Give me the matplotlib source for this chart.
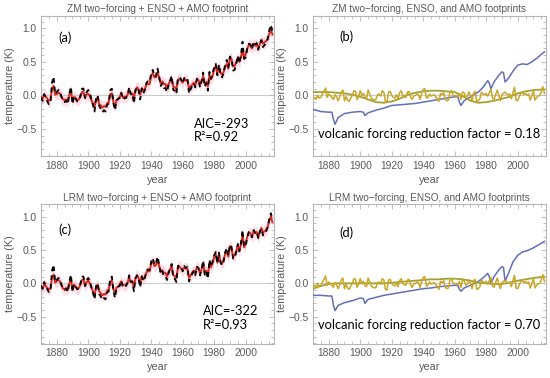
import numpy as np
import matplotlib
matplotlib.use("Agg")
import matplotlib.pyplot as plt
from matplotlib.ticker import MultipleLocator, FixedLocator

# ---------------- data ----------------
years = list(range(1870, 2018))

observed = [
    -0.03, -0.08, 0.02, -0.03, -0.09, -0.13, -0.12, 0.19, 0.28, 0.02,
    0.05, 0.08, 0.06, -0.02, -0.08, -0.10, -0.08, -0.13, 0.03, 0.13,
    -0.13, -0.01, -0.05, -0.09, -0.08, -0.01, 0.10, 0.10, -0.04, 0.05,
    0.08, 0.04, -0.06, -0.14, -0.24, -0.04, 0.00, -0.16, -0.20, -0.25,
    -0.22, -0.24, -0.14, -0.12, 0.08, 0.10, -0.12, -0.22, -0.07, -0.05,
    -0.04, 0.04, -0.06, -0.04, -0.04, 0.01, 0.12, 0.02, 0.03, -0.12,
    0.07, 0.12, 0.07, -0.06, 0.10, 0.03, 0.08, 0.19, 0.21, 0.20,
    0.33, 0.38, 0.28, 0.29, 0.40, 0.29, 0.14, 0.18, 0.11, 0.11,
    0.05, 0.15, 0.22, 0.29, 0.08, 0.07, 0.02, 0.26, 0.27, 0.24,
    0.18, 0.26, 0.23, 0.25, 0.03, 0.09, 0.14, 0.18, 0.12, 0.25,
    0.23, 0.12, 0.21, 0.34, 0.13, 0.18, 0.07, 0.35, 0.25, 0.33,
    0.42, 0.47, 0.30, 0.46, 0.31, 0.27, 0.33, 0.47, 0.53, 0.42,
    0.58, 0.55, 0.37, 0.38, 0.47, 0.59, 0.48, 0.60, 0.80, 0.55,
    0.56, 0.69, 0.77, 0.76, 0.69, 0.80, 0.76, 0.78, 0.68, 0.78,
    0.82, 0.72, 0.75, 0.78, 0.84, 0.97, 1.05, 0.95,
]

model_zm = [
    -0.02, -0.05, 0.01, -0.02, -0.05, -0.08, -0.07, 0.11, 0.14, 0.01,
    0.02, 0.04, 0.03, -0.02, -0.06, -0.07, -0.06, -0.09, 0.01, 0.07,
    -0.09, -0.02, -0.04, -0.07, -0.06, -0.02, 0.05, 0.05, -0.04, 0.02,
    0.02, -0.01, -0.07, -0.12, -0.17, -0.06, -0.03, -0.13, -0.15, -0.18,
    -0.16, -0.17, -0.12, -0.10, 0.02, 0.03, -0.10, -0.16, -0.07, -0.06,
    -0.02, 0.03, -0.03, -0.02, -0.02, 0.01, 0.08, 0.02, 0.03, -0.06,
    0.09, 0.12, 0.09, 0.01, 0.11, 0.07, 0.10, 0.16, 0.17, 0.17,
    0.30, 0.33, 0.27, 0.27, 0.34, 0.27, 0.18, 0.21, 0.17, 0.17,
    0.11, 0.17, 0.21, 0.25, 0.13, 0.12, 0.09, 0.24, 0.24, 0.22,
    0.19, 0.24, 0.22, 0.23, 0.10, 0.13, 0.16, 0.19, 0.15, 0.23,
    0.23, 0.16, 0.21, 0.29, 0.17, 0.20, 0.13, 0.30, 0.24, 0.29,
    0.40, 0.43, 0.33, 0.43, 0.34, 0.31, 0.35, 0.43, 0.47, 0.40,
    0.56, 0.54, 0.43, 0.44, 0.49, 0.56, 0.50, 0.57, 0.69, 0.54,
    0.62, 0.70, 0.75, 0.74, 0.70, 0.77, 0.74, 0.76, 0.70, 0.76,
    0.83, 0.77, 0.79, 0.81, 0.84, 0.92, 0.97, 0.91,
]

model_lrm = [
    -0.06, -0.08, -0.02, -0.04, -0.07, -0.09, -0.08, 0.09, 0.13, 0.01,
    0.03, 0.05, 0.03, -0.03, -0.08, -0.09, -0.07, -0.10, 0.00, 0.07,
    -0.10, -0.02, -0.05, -0.08, -0.07, -0.02, 0.05, 0.06, -0.04, 0.02,
    0.04, 0.00, -0.06, -0.12, -0.18, -0.06, -0.02, -0.12, -0.15, -0.18,
    -0.16, -0.17, -0.11, -0.09, 0.03, 0.04, -0.09, -0.15, -0.06, -0.05,
    -0.02, 0.03, -0.03, -0.02, -0.02, 0.01, 0.09, 0.02, 0.03, -0.06,
    0.08, 0.12, 0.08, 0.00, 0.11, 0.06, 0.10, 0.17, 0.18, 0.18,
    0.30, 0.33, 0.26, 0.27, 0.34, 0.27, 0.17, 0.20, 0.16, 0.16,
    0.10, 0.17, 0.21, 0.26, 0.12, 0.11, 0.08, 0.24, 0.25, 0.22,
    0.19, 0.24, 0.22, 0.22, 0.08, 0.12, 0.16, 0.19, 0.15, 0.24,
    0.23, 0.15, 0.21, 0.30, 0.16, 0.19, 0.11, 0.31, 0.24, 0.30,
    0.40, 0.44, 0.31, 0.43, 0.33, 0.30, 0.35, 0.44, 0.48, 0.40,
    0.56, 0.52, 0.40, 0.42, 0.48, 0.57, 0.49, 0.58, 0.72, 0.54,
    0.60, 0.70, 0.76, 0.75, 0.70, 0.78, 0.75, 0.77, 0.69, 0.77,
    0.83, 0.76, 0.78, 0.80, 0.85, 0.94, 1.00, 0.92,
]

enso = [
    -0.05, -0.03, -0.06, 0.00, -0.04, -0.03, 0.02, 0.06, 0.11, -0.03,
    0.02, 0.00, -0.03, -0.06, 0.01, -0.02, -0.08, -0.02, 0.05, 0.08,
    -0.08, -0.02, -0.07, -0.09, -0.04, 0.00, 0.07, 0.06, -0.06, -0.01,
    0.07, 0.00, 0.03, -0.03, -0.05, 0.08, 0.02, -0.04, -0.06, -0.07,
    -0.06, 0.01, 0.02, -0.01, 0.07, 0.05, -0.09, -0.10, 0.05, 0.06,
    0.00, -0.03, -0.04, 0.01, -0.05, 0.04, 0.07, 0.00, -0.02, -0.03,
    0.05, 0.06, -0.02, -0.06, -0.01, 0.00, 0.02, 0.01, -0.06, 0.03,
    0.09, 0.10, -0.04, -0.03, 0.02, -0.01, 0.00, 0.01, -0.02, -0.05,
    -0.09, 0.03, 0.01, 0.04, -0.06, -0.08, -0.07, 0.05, 0.07, 0.00,
    -0.01, 0.00, -0.02, 0.03, -0.06, 0.05, 0.04, -0.03, -0.01, 0.05,
    0.00, -0.08, 0.03, 0.06, -0.09, -0.08, -0.05, 0.05, 0.02, 0.01,
    0.03, -0.01, 0.04, 0.09, -0.04, -0.06, 0.01, 0.08, 0.00, -0.08,
    0.01, 0.03, 0.05, 0.02, 0.01, 0.02, -0.05, 0.04, 0.12, -0.07,
    -0.08, -0.02, 0.03, 0.04, 0.01, 0.03, 0.00, 0.02, -0.07, -0.01,
    0.07, -0.07, -0.03, -0.01, 0.00, 0.05, 0.13, 0.03,
]

# two-forcing footprints (irregular sample years)
forcing_years_zm = [1870, 1875, 1880, 1882, 1883, 1884, 1886, 1890, 1895, 1900,
                    1902, 1903, 1905, 1910, 1915, 1920, 1925, 1930, 1935, 1940,
                    1945, 1950, 1955, 1960, 1962, 1963, 1964, 1966, 1970, 1975,
                    1978, 1981, 1982, 1983, 1985, 1988, 1990, 1991, 1992, 1994,
                    1997, 2000, 2003, 2006, 2009, 2012, 2015, 2017]
forcing_zm = [-0.21, -0.24, -0.25, -0.25, -0.36, -0.43, -0.33, -0.27, -0.25, -0.24,
              -0.25, -0.30, -0.26, -0.22, -0.19, -0.15, -0.14, -0.13, -0.12, -0.10,
              -0.08, -0.06, -0.04, -0.02, -0.02, -0.10, -0.15, -0.08, -0.02, 0.05,
              0.12, 0.22, 0.18, 0.10, 0.20, 0.30, 0.35, 0.34, 0.20, 0.25,
              0.36, 0.45, 0.47, 0.46, 0.50, 0.55, 0.61, 0.65]

forcing_years_lrm = [1870, 1875, 1880, 1882, 1883, 1884, 1886, 1890, 1895, 1900,
                     1902, 1903, 1905, 1910, 1915, 1920, 1925, 1930, 1935, 1940,
                     1945, 1950, 1955, 1960, 1962, 1963, 1964, 1966, 1970, 1975,
                     1978, 1981, 1982, 1983, 1985, 1988, 1990, 1991, 1992, 1994,
                     1997, 2000, 2003, 2006, 2009, 2012, 2015, 2017]
forcing_lrm = [-0.18, -0.18, -0.19, -0.19, -0.33, -0.41, -0.33, -0.29, -0.26, -0.22,
               -0.23, -0.30, -0.24, -0.21, -0.18, -0.16, -0.14, -0.12, -0.10, -0.08,
               -0.07, -0.05, -0.04, -0.03, -0.03, -0.09, -0.12, -0.07, -0.03, 0.03,
               0.08, 0.15, 0.10, 0.00, 0.10, 0.20, 0.25, 0.24, 0.03, 0.14,
               0.32, 0.42, 0.47, 0.49, 0.52, 0.56, 0.60, 0.63]

# AMO footprints (smooth)
amo_years = [1870, 1875, 1880, 1885, 1890, 1895, 1900, 1905, 1910, 1915,
             1920, 1925, 1930, 1935, 1940, 1945, 1950, 1955, 1960, 1965,
             1970, 1975, 1980, 1985, 1990, 1995, 2000, 2005, 2010, 2017]
amo_zm = [0.05, 0.05, 0.05, 0.04, 0.03, 0.01, -0.02, -0.06, -0.10, -0.11,
          -0.09, -0.05, 0.01, 0.04, 0.06, 0.07, 0.07, 0.06, 0.05, -0.01,
          -0.08, -0.11, -0.10, -0.08, -0.05, -0.02, 0.03, 0.06, 0.08, 0.09]
amo_lrm = [-0.08, -0.04, -0.01, 0.00, 0.00, 0.00, 0.00, 0.00, 0.00, 0.00,
           0.01, 0.02, 0.03, 0.04, 0.05, 0.06, 0.06, 0.07, 0.07, 0.06,
           0.04, 0.01, 0.00, -0.01, -0.01, 0.01, 0.04, 0.06, 0.08, 0.10]

titles = ["ZM two\u2212forcing + ENSO + AMO footprint",
          "ZM two\u2212forcing, ENSO, and AMO footprints",
          "LRM two\u2212forcing + ENSO + AMO footprint",
          "LRM two\u2212forcing, ENSO, and AMO footprints"]
panel_labels = ["(a)", "(b)", "(c)", "(d)"]
aic_text = ["AIC=-293", "AIC=-322"]
r2_text = ["R\u00b2=0.92", "R\u00b2=0.93"]
volc_text = ["volcanic forcing reduction factor = 0.18",
             "volcanic forcing reduction factor = 0.70"]
xticks = [1880, 1900, 1920, 1940, 1960, 1980, 2000]
yticks = [-0.5, 0.0, 0.5, 1.0]

# ---------------- style ----------------
W, H = 550, 378
plt.rcParams['font.family'] = ['Liberation Sans', 'DejaVu Sans']
fig = plt.figure(figsize=(W / 100, H / 100), dpi=100)

FRAME = "#b5b5b5"
TXT = "#5a5a5a"
BLUE = "#6270b8"
GOLD = "#c9a626"
OLIVE = "#a2a232"
RED = "#d92a1c"
PINK = "#ffdbe8"
ANN_FONT = ['Lato', 'DejaVu Sans']
ANN_SIZE = 9.3


def add_ax(left, top, w, h):
    return fig.add_axes([left / W, 1 - (top + h) / H, w / W, h / H])


def style(ax, title):
    ax.set_xlim(1870, 2018)
    ax.set_ylim(-0.91, 1.19)
    ax.xaxis.set_major_locator(FixedLocator(xticks))
    ax.xaxis.set_minor_locator(MultipleLocator(5))
    ax.yaxis.set_major_locator(FixedLocator(yticks))
    ax.yaxis.set_minor_locator(MultipleLocator(0.1))
    ax.set_yticklabels(["\u22120.5", "0.0", "0.5", "1.0"])
    for s in ax.spines.values():
        s.set_color(FRAME)
        s.set_linewidth(0.8)
    ax.tick_params(which='both', direction='in', top=True, right=True,
                   color=FRAME, labelcolor=TXT, labelsize=7.4, width=0.6)
    ax.tick_params(which='major', length=3.5, pad=3)
    ax.tick_params(which='minor', length=2)
    ax.set_title(title, fontsize=7.2, color=TXT, pad=2.5)
    ax.set_xlabel("year", fontsize=7.8, color=TXT, labelpad=3)
    ax.set_ylabel("temperature (K)", fontsize=7.8, color=TXT, labelpad=1)
    ax.axhline(0, color="#cccccc", lw=0.8, zorder=1)


axes_pos = [(41, 15.5, 233, 141), (313, 15.5, 233, 141),
            (41, 204, 233, 140), (313, 204, 233, 140)]
axs = [add_ax(*p) for p in axes_pos]

# fit panels (a) and (c)
for k, (ax, model) in enumerate([(axs[0], model_zm), (axs[2], model_lrm)]):
    m = np.array(model)
    ax.fill_between(years, m - 0.09, m + 0.09, color=PINK, lw=0, zorder=0)
    style(ax, titles[2 * k])
    ax.plot(years, model, color=RED, lw=1.4, zorder=3)
    ax.plot(years, observed, color="black", lw=1.3, ls=(0, (2.6, 2.2)), zorder=4)
    ax.text(1885, 0.86 if k == 0 else 0.80, panel_labels[2 * k], fontsize=ANN_SIZE,
            family=ANN_FONT, ha='center', va='center', color='black')
    ax.text(1967 if k == 0 else 1973, -0.42, aic_text[k], fontsize=ANN_SIZE,
            family=ANN_FONT, ha='left', va='center', color='black')
    ax.text(1967 if k == 0 else 1973, -0.62, r2_text[k], fontsize=ANN_SIZE,
            family=ANN_FONT, ha='left', va='center', color='black')

# footprint panels (b) and (d)
for k, (ax, fy, fv, amo) in enumerate([(axs[1], forcing_years_zm, forcing_zm, amo_zm),
                                        (axs[3], forcing_years_lrm, forcing_lrm, amo_lrm)]):
    style(ax, titles[2 * k + 1])
    ax.plot(fy, fv, color=BLUE, lw=1.1, zorder=3)
    ax.plot(amo_years, amo, color=OLIVE, lw=1.3, zorder=3)
    ax.plot(years, enso, color=GOLD, lw=1.1, zorder=4)
    ax.text(1891.5, 0.87 if k == 0 else 0.76, panel_labels[2 * k + 1], fontsize=ANN_SIZE,
            family=ANN_FONT, ha='center', va='center', color='black')
    ax.text(1873, -0.58 if k == 0 else -0.62, volc_text[k], fontsize=ANN_SIZE,
            family=ANN_FONT, ha='left', va='center', color='black')

fig.savefig("out.png", dpi=100)
